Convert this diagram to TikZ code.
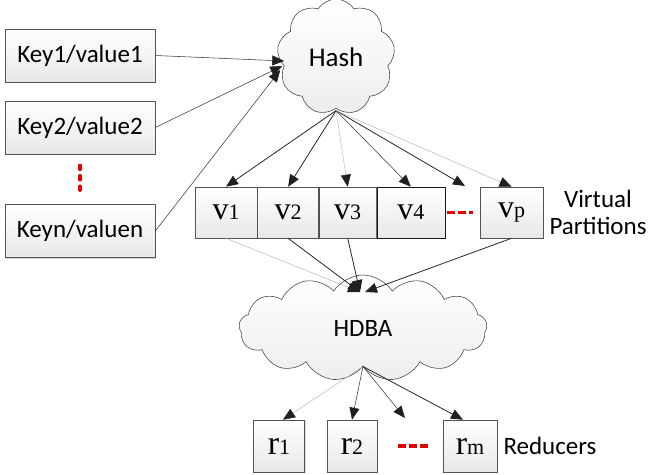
\documentclass[tikz,border=0pt]{standalone}
\usepackage{fontspec}
\setmainfont{Liberation Serif}
\newfontfamily\keyfont{Carlito}
\usetikzlibrary{shapes.symbols,positioning,arrows.meta,shadows}
\newcommand{\vsub}[2]{#1{\fontsize{22}{22}\selectfont #2}}

\begin{document}
\begin{tikzpicture}[x=1pt,y=-1pt,
    % General options for the boxes
    box/.style={draw=gray!65!black, line width=0.6pt,
      top color=white, bottom color=gray!18,
      drop shadow={shadow xshift=1.2pt, shadow yshift=-1.2pt, fill=gray!60, opacity=0.5},
      inner sep=0pt, anchor=center, text centered},
    keybox/.style={box, minimum width=150pt, minimum height=53pt,
      font=\keyfont\fontsize{25}{25}\selectfont},
    vbox/.style={box, minimum height=51pt, font=\fontsize{32}{32}\selectfont},
    rbox/.style={box, minimum width=51pt, minimum height=52pt, font=\fontsize{34}{34}\selectfont},
    % Define styles for clouds, labels and connectors
    puff/.style={cloud, cloud ignores aspect, cloud puff arc=115, draw=gray!60!black,
      line width=0.6pt, top color=white, bottom color=gray!14, inner sep=0pt},
    lbl/.style={font=\keyfont\fontsize{25}{27}\selectfont, align=center, inner sep=0pt},
    arr/.style={-{Triangle[length=12pt,width=10pt,color=gray!25!black]},
      draw=gray!30!black, line width=0.8pt},
    arrthin/.style={arr, draw=gray!45!black, line width=0.55pt},
    arrlight/.style={arr, draw=gray!60, line width=0.45pt},
    reddots/.style={draw=red!90!black, line width=3.5pt, line cap=round, dash pattern=on 4pt off 6.5pt},
    reddash/.style={draw=red!90!black, line width=3.5pt, dash pattern=on 8pt off 3pt}
  ]
  \useasboundingbox (0,0) rectangle (648,474);

  % Key/value inputs
  \node[keybox] (key1) at (80,55.5) {Key1/value1};
  \node[keybox] (key2) at (80,127.5) {Key2/value2};
  \node[keybox] (keyn) at (80,231) {Keyn/valuen};
  \draw[reddots, shorten <=11pt, shorten >=14pt] (key2.south) -- (keyn.north);

  % Hash cloud
  \node[puff, cloud puffs=9, minimum width=118pt, minimum height=116pt,
        font=\keyfont\fontsize{27}{27}\selectfont] (hash) at (336,57) {Hash};

  % Virtual partitions
  \node[vbox, minimum width=62pt] (v1) at (226,212.5) {\vsub{v}{1}};
  \node[vbox, minimum width=61pt, right=0pt of v1] (v2) {\vsub{v}{2}};
  \node[vbox, minimum width=57pt, right=0pt of v2] (v3) {\vsub{v}{3}};
  \node[vbox, minimum width=68pt, right=0pt of v3, draw=gray!20!black] (v4) {\vsub{v}{4}};
  \node[vbox, minimum width=63pt] (vp) at (511.5,212.5) {\vsub{v}{p}};
  \draw[reddash, shorten <=2pt, shorten >=7pt] (v4.east) -- (vp.west);
  \coordinate (vdots) at (465,186);
  \node[lbl, right=6pt of vp] (vlabel) {Virtual\\Partitions};

  % HDBA cloud
  \node[puff, cloud puffs=13, minimum width=248pt, minimum height=106pt,
        font=\keyfont\fontsize{25}{25}\selectfont] (hdba) at (363,328) {HDBA};
  \coordinate (hdbain) at (360,292);

  % Reducers
  \node[rbox] (r1) at (279,446) {\vsub{r}{1}};
  \node[rbox, minimum width=50pt] (r2) at (352,446) {\vsub{r}{2}};
  \node[rbox, minimum width=54pt] (rm) at (470,446) {\vsub{r}{m}};
  \draw[reddash, shorten <=21pt, shorten >=13pt] (r2.east) -- (rm.west);
  \coordinate (rdots) at (405,418);
  \node[lbl, right=6pt of rm] (rlabel) {Reducers};

  % Connectors into the hash
  \draw[arrthin] (key1.east) -- ([shift={(6,4)}]hash.west);
  \draw[arrthin] (key2.east) -- ([shift={(4,9)}]hash.west);
  \draw[arrthin] (keyn.east) -- ([shift={(2,13)}]hash.west);

  % Hash to partitions
  \coordinate (hashout) at ([yshift=-2pt]hash.south);
  \draw[arr] (hashout) -- (v1.north);
  \draw[arr] (hashout) -- (v2.north);
  \draw[arrlight] (hashout) -- (v3.north);
  \draw[arrthin] (hashout) -- (v4.north);
  \draw[arr] (hashout) -- (vdots);
  \draw[arrlight] (hashout) -- (vp.north);

  % Partitions to HDBA
  \draw[arrlight] (v1.south) -- (hdbain);
  \draw[arr] (v2.south) -- (hdbain);
  \draw[arr] (v3.south) -- (hdbain);
  \draw[arr] (vp.south) -- ([xshift=5pt]hdbain);

  % HDBA to reducers
  \draw[arrlight] (hdba.south) -- ([xshift=4pt]r1.north);
  \draw[arrthin] (hdba.south) -- (r2.north);
  \draw[arrthin] (hdba.south) -- (rdots);
  \draw[arr] (hdba.south) -- ([xshift=-7pt]rm.north);
\end{tikzpicture}
\end{document}
